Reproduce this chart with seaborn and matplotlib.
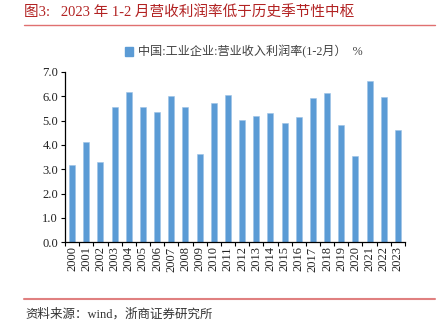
import matplotlib
matplotlib.use("Agg")
import matplotlib.pyplot as plt
import seaborn as sns
import pandas as pd
import numpy as np
from matplotlib.lines import Line2D
from matplotlib.patches import Patch

years = [str(y) for y in range(2000, 2024)]
values = [3.16, 4.12, 3.30, 5.57, 6.19, 5.55, 5.36, 6.03, 5.57, 3.62, 5.71,
          6.04, 5.03, 5.19, 5.30, 4.90, 5.14, 5.93, 6.12, 4.81, 3.53, 6.62, 5.98, 4.61]
yticks = [0.0, 1.0, 2.0, 3.0, 4.0, 5.0, 6.0, 7.0]
series_name = "中国:工业企业:营业收入利润率(1-2月）  %"
title = "图3:   2023 年 1-2 月营收利润率低于历史季节性中枢"
source = "资料来源：wind，浙商证券研究所"

sns.set_style("white")
plt.rcParams['font.family'] = ['Liberation Serif', 'Noto Sans CJK SC', 'DejaVu Sans']

df = pd.DataFrame({"year": years, "value": values})

fig = plt.figure(figsize=(4.41, 3.27), dpi=100)
ax = fig.add_axes([65/441, 1-242.3/327, (405-65)/441, (242.3-72)/327])

sns.barplot(data=df, x="year", y="value", color="#5B9BD5", saturation=1,
            width=0.42, ax=ax, edgecolor="#9DC3E6", linewidth=0.4)

ax.set_ylim(0, 7.0)
ax.set_xlim(-0.5, len(years)-0.5)
ax.set_yticks(yticks)
ax.set_yticklabels([f"{v:.1f}" for v in yticks], fontsize=9, color="#222222")
ax.set_xticks(range(len(years)))
ax.set_xticklabels(years, rotation=90, fontsize=9, color="#222222")
ax.set_xlabel("")
ax.set_ylabel("")
ax.set_xticks(np.arange(-0.5, len(years), 1.0), minor=True)
ax.tick_params(axis='x', which='major', length=0, pad=3)
ax.tick_params(axis='x', which='minor', length=3, width=0.8, color='black', direction='out', bottom=True)
ax.tick_params(axis='y', which='major', length=3, width=0.8, color='black', direction='out', left=True, pad=2)
for s in ['top', 'right']:
    ax.spines[s].set_visible(False)
for s in ['left', 'bottom']:
    ax.spines[s].set_visible(True)
    ax.spines[s].set_color('black')
    ax.spines[s].set_linewidth(0.9)

handle = Patch(facecolor="#5B9BD5", edgecolor="#5B9BD5")
fig.legend([handle], [series_name], loc='center left', bbox_to_anchor=(114/441, 1-52/327),
           frameon=False, handlelength=0.7, handleheight=0.7,
           handletextpad=0.4, prop={'family': ['Liberation Serif', 'Noto Sans CJK SC'], 'size': 8.7},
           labelcolor="#404040")

fig.text(24/441, 1-13/327, title, fontsize=10.5, color="#B22222", va='center', ha='left',
         family=['Liberation Serif', 'Noto Sans CJK SC'])
fig.add_artist(Line2D([24/441, 435/441], [1-25/327, 1-25/327], color="#E07070", linewidth=1.0))
fig.add_artist(Line2D([24/441, 435/441], [1-299/327, 1-299/327], color="#E08080", linewidth=1.5))
fig.text(25/441, 1-314/327, source, fontsize=9, color="#333333", va='center', ha='left',
         family=['Liberation Serif', 'Noto Sans CJK SC'])

fig.savefig("out.png", dpi=100)
